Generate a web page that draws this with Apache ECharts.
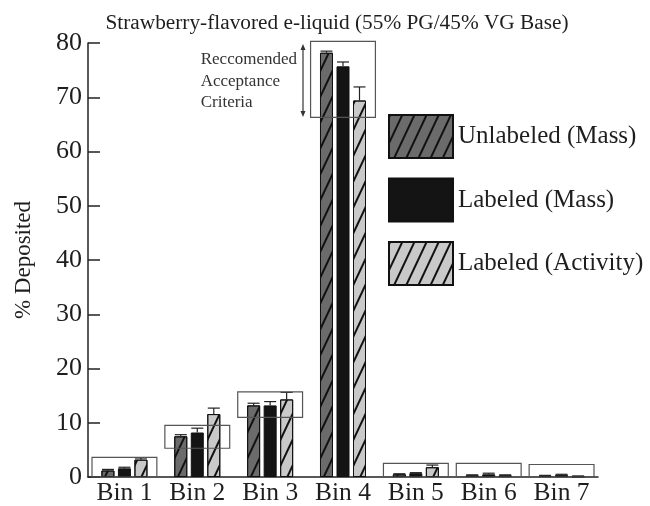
<!DOCTYPE html>
<html>
<head>
<meta charset="utf-8">
<script src="https://cdn.jsdelivr.net/npm/echarts@6/dist/echarts.min.js"></script>
<style>html,body{margin:0;padding:0;background:#fff}#c{width:650px;height:506px}</style>
</head>
<body>
<div id="c"></div>
<script>
var categories = ['Bin 1','Bin 2','Bin 3','Bin 4','Bin 5','Bin 6','Bin 7'];
var seriesNames = ['Unlabeled (Mass)','Labeled (Mass)','Labeled (Activity)'];
var unlabeledMass = [1.2, 7.5, 13.2, 78.2, 0.5, 0.3, 0.2];
var labeledMass = [1.6, 8.2, 13.2, 75.7, 0.7, 0.5, 0.4];
var labeledActivity = [3.2, 11.6, 14.3, 69.4, 1.8, 0.3, 0.1];
var errUnlabeledMass = [0.2, 0.3, 0.4, 0.3, 0.1, 0.1, 0.1];
var errLabeledMass = [0.2, 0.8, 0.7, 0.8, 0.1, 0.2, 0.1];
var errLabeledActivity = [0.3, 1.1, 1.3, 2.5, 0.4, 0.1, 0.1];
var criteriaLow = [0, 5.3, 11.0, 66.3, 0, 0, 0];
var criteriaHigh = [3.6, 9.5, 15.7, 80.3, 2.5, 2.5, 2.3];
var yTicks = [0, 10, 20, 30, 40, 50, 60, 70, 80];

var FONT = 'Liberation Serif';
var BAR_W = 13, BAR_STEP = 16.5;
var fills = ['#6b6b6b', '#141414', '#c9c9c9'];
function hatch() {
  return { symbol: 'rect', symbolSize: 1, color: '#111', dashArrayX: [1, 0], dashArrayY: [1.6, 9], rotation: -Math.PI * 0.36 };
}
var values = [unlabeledMass, labeledMass, labeledActivity];
var errs = [errUnlabeledMass, errLabeledMass, errLabeledActivity];

var series = [];
values.forEach(function (vals, i) {
  series.push({
    name: seriesNames[i], type: 'bar', data: vals, barWidth: BAR_W, barGap: '27%',
    itemStyle: { color: fills[i], borderColor: '#111', borderWidth: 1, decal: i === 1 ? null : hatch() },
    z: 2
  });
});
// error bars
values.forEach(function (vals, i) {
  var d = vals.map(function (v, k) { return [k, v, v + errs[i][k]]; });
  series.push({
    type: 'custom', data: d, z: 5, silent: true,
    renderItem: function (params, api) {
      var p0 = api.coord([api.value(0), api.value(1)]);
      var p1 = api.coord([api.value(0), api.value(2)]);
      var x = p0[0] + (i - 1) * BAR_STEP;
      return { type: 'group', children: [
        { type: 'line', shape: { x1: x, y1: p0[1], x2: x, y2: p1[1] }, style: { stroke: '#222', lineWidth: 1.2 } },
        { type: 'line', shape: { x1: x - 6, y1: p1[1], x2: x + 6, y2: p1[1] }, style: { stroke: '#222', lineWidth: 1.2 } }
      ] };
    }
  });
});
// acceptance criteria boxes
series.push({
  type: 'custom', z: 6, silent: true,
  data: categories.map(function (c, k) { return [k, criteriaLow[k], criteriaHigh[k]]; }),
  renderItem: function (params, api) {
    var lo = api.coord([api.value(0), api.value(1)]);
    var hi = api.coord([api.value(0), api.value(2)]);
    var w = api.size([1, 0])[0] * 0.89;
    return { type: 'rect', shape: { x: lo[0] - w / 2, y: hi[1], width: w, height: lo[1] - hi[1] },
      style: { fill: null, stroke: '#555', lineWidth: 1.2 } };
  }
});

var chart = echarts.init(document.getElementById('c'));
chart.setOption({
  animation: false,
  backgroundColor: '#fff',
  title: { text: 'Strawberry-flavored e-liquid (55% PG/45% VG Base)', left: 332, textAlign: 'center', top: 8,
    textStyle: { fontFamily: FONT, fontSize: 21.3, fontWeight: 'normal', color: '#1e1e1e' } },
  legend: {
    orient: 'vertical', left: 383, top: 109, icon: 'rect', itemWidth: 64, itemHeight: 43, itemGap: 18.5,
    data: seriesNames,
    textStyle: { fontFamily: FONT, fontSize: 25, color: '#1e1e1e', padding: [0, 0, 0, 0] }
  },
  grid: { left: 88, right: 52, top: 43, bottom: 26, containLabel: false },
  xAxis: {
    type: 'category', data: categories,
    axisLine: { lineStyle: { color: '#222', width: 1.5 } },
    axisTick: { inside: true, length: 9, lineStyle: { color: '#222', width: 1.5 } },
    axisLabel: { fontFamily: FONT, fontSize: 25.5, color: '#1e1e1e', margin: 3 }
  },
  yAxis: {
    type: 'value', min: yTicks[0], max: yTicks[yTicks.length - 1], interval: 10,
    name: '% Deposited', nameLocation: 'middle', nameGap: 53,
    nameTextStyle: { fontFamily: FONT, fontSize: 23, color: '#1e1e1e' },
    splitLine: { show: false },
    axisLine: { show: true, lineStyle: { color: '#222', width: 1.5 } },
    axisTick: { show: true, inside: true, length: 12, lineStyle: { color: '#222', width: 1.5 } },
    axisLabel: { fontFamily: FONT, fontSize: 26, color: '#1e1e1e', margin: 6 }
  },
  graphic: [
    { type: 'text', right: 650 - 297, top: 49, style: { text: 'Reccomended\nAcceptance\nCriteria', fontFamily: FONT, fontSize: 17, lineHeight: 21.5, fill: '#333', align: 'right' } },
    { type: 'line', shape: { x1: 303, y1: 47, x2: 303, y2: 114 }, style: { stroke: '#333', lineWidth: 1.2 } },
    { type: 'polygon', shape: { points: [[300.5, 50], [305.5, 50], [303, 44]] }, style: { fill: '#333' } },
    { type: 'polygon', shape: { points: [[300.5, 111], [305.5, 111], [303, 117]] }, style: { fill: '#333' } }
  ],
  series: series
});
</script>
</body>
</html>
